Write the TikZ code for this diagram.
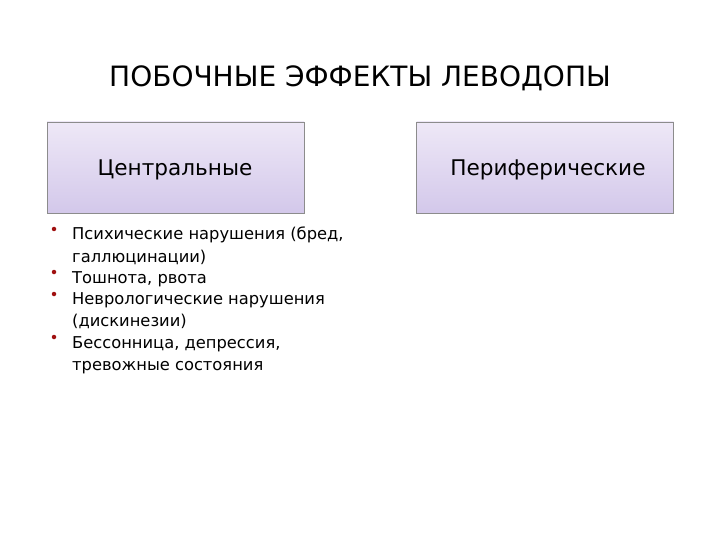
\documentclass[tikz,border=0pt]{standalone}
\usepackage{fontspec}
\setmainfont{DejaVu Sans}
\usetikzlibrary{shadings}
\definecolor{boxtop}{HTML}{EEE8F7}
\definecolor{boxbot}{HTML}{D3C8EA}
\definecolor{boxline}{HTML}{8C8C8C}
\definecolor{bul}{HTML}{A01010}
\begin{document}
\begin{tikzpicture}[x=1pt,y=-1pt,
  catbox/.style={draw=boxline, line width=0.8pt, top color=boxtop, bottom color=boxbot,
    minimum width=257pt, minimum height=91pt, inner sep=0pt},
  boxtext/.style={anchor=base, inner sep=0pt, font=\fontsize{21.6}{25}\selectfont},
  bline/.style={anchor=base west, inner sep=0pt, font=\fontsize{16.3}{20}\selectfont},
  bdot/.style={circle, fill=bul, inner sep=0pt, minimum size=4.5pt}]
\useasboundingbox (0,0) rectangle (720,540);
\node[font=\fontsize{28}{32}\selectfont, anchor=base, inner sep=0pt] (title) at (360,87) {ПОБОЧНЫЕ ЭФФЕКТЫ ЛЕВОДОПЫ};
\node[catbox] (c) at (175.5,167.5) {};
\node[boxtext] (ct) at (175,176) {Центральные};
\node[catbox] (p) at (545,167.5) {};
\node[boxtext] (pt) at (548,176) {Периферические};
\node[bline] (l1) at (72,240) {Психические нарушения (бред,};
\node[bline] (l2) at (72,262) {галлюцинации)};
\node[bline] (l3) at (72,283) {Тошнота, рвота};
\node[bline] (l4) at (72,304) {Неврологические нарушения};
\node[bline] (l5) at (72,326) {(дискинезии)};
\node[bline] (l6) at (72,348) {Бессонница, депрессия,};
\node[bline] (l7) at (72,370) {тревожные состояния};
\node[bdot] (d1) at (54,229) {};
\node[bdot] (d2) at (54,272) {};
\node[bdot] (d3) at (54,294) {};
\node[bdot] (d4) at (54,337) {};
\end{tikzpicture}
\end{document}
